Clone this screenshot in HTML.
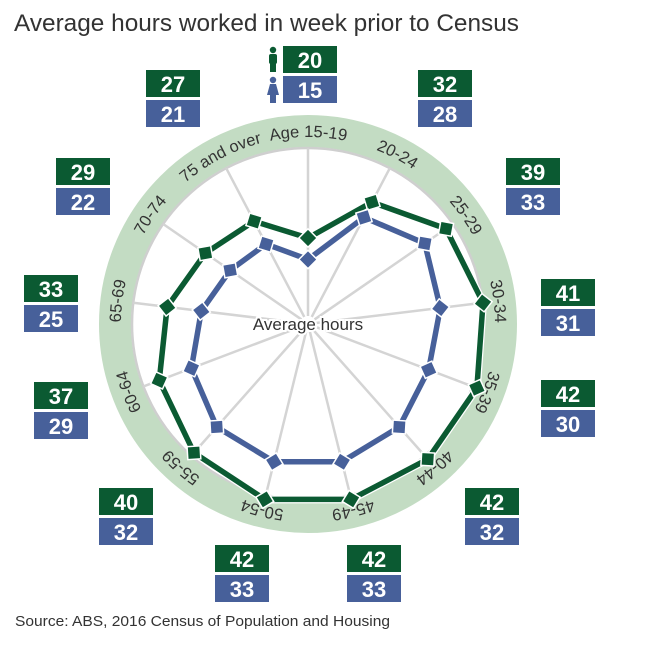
<!DOCTYPE html>
<html><head><meta charset="utf-8">
<style>
body{margin:0;background:#fff;width:646px;height:656px;overflow:hidden;font-family:"Liberation Sans",sans-serif}
</style></head>
<body>
<svg id="s" width="646" height="656" xmlns="http://www.w3.org/2000/svg" font-family="Liberation Sans, sans-serif">
<text x="14" y="31" font-size="24" fill="#333" textLength="505" lengthAdjust="spacingAndGlyphs">Average hours worked in week prior to Census</text>
<text x="15" y="626" font-size="15" fill="#333" textLength="375" lengthAdjust="spacingAndGlyphs">Source: ABS, 2016 Census of Population and Housing</text>
<circle cx="308" cy="324" r="193" fill="none" stroke="#c3dcc3" stroke-width="32"/>
<circle cx="308" cy="324" r="176" fill="none" stroke="#cfcfcf" stroke-width="2.5"/>
<g id="g"></g>
</svg>
<script>
const cx=308,cy=324,k=4.3,NS="http://www.w3.org/2000/svg";
const s=document.getElementById('s'),g=document.getElementById('g');
const M=[20,32,39,41,42,42,42,42,40,37,33,29,27],F=[15,28,33,31,30,32,33,33,32,29,25,22,21];
const L=["Age 15-19","20-24","25-29","30-34","35-39","40-44","45-49","50-54","55-59","60-64","65-69","70-74","75 and over"];
const B=[[283,46],[418,70],[506,158],[541,279],[541,380],[465,488],[347,545],[215,545],[99,488],[34,382],[24,275],[56,158],[146,70]];
function el(t,a,p){const e=document.createElementNS(NS,t);for(const x in a)e.setAttribute(x,a[x]);(p||g).appendChild(e);return e}
function pt(i,r){const a=i*2*Math.PI/13;return [cx+r*Math.sin(a),cy-r*Math.cos(a)]}
for(let i=0;i<13;i++){const p=pt(i,176),q=pt(i,8);el('line',{x1:q[0],y1:q[1],x2:p[0],y2:p[1],stroke:'#d4d4d4','stroke-width':2.5})}
function series(d,c){const ps=d.map((v,i)=>pt(i,v*k));
el('polygon',{points:ps.map(p=>p.join(',')).join(' '),fill:'none',stroke:'#fff','stroke-width':8,'stroke-linejoin':'round'});
el('polygon',{points:ps.map(p=>p.join(',')).join(' '),fill:'none',stroke:c,'stroke-width':5.5,'stroke-linejoin':'round'});
ps.forEach((p,i)=>{el('rect',{x:p[0]-6.5,y:p[1]-6.5,width:13,height:13,fill:c,stroke:'#fff','stroke-width':1.5,transform:`rotate(${45+i*360/13} ${p[0]} ${p[1]})`})})}
series(M,'#0b5a32');series(F,'#47609a');
el('text',{x:cx,y:cy+6,'font-size':17,'text-anchor':'middle',fill:'#fff',stroke:'#fff','stroke-width':4}).textContent="Average hours";
el('text',{x:cx,y:cy+6,'font-size':17,'text-anchor':'middle',fill:'#333'}).textContent="Average hours";
const r=187;
el('path',{id:'rp',d:`M ${cx} ${cy+r} A ${r} ${r} 0 1 1 ${cx} ${cy-r} A ${r} ${r} 0 1 1 ${cx} ${cy+r}`,fill:'none'});
const C=2*Math.PI*r;
L.forEach((t,i)=>{const deg=(i*360/13+180)%360;const tx=el('text',{'font-size':16.5,fill:'#333','text-anchor':'middle'});
const tp=el('textPath',{href:'#rp',startOffset:(deg/360*C).toFixed(1)},tx);tp.textContent=t;});
B.forEach((b,i)=>{const[x,y]=b;
el('rect',{x:x,y:y,width:54,height:27,fill:'#0b5a32'});
el('rect',{x:x,y:y+30,width:54,height:27,fill:'#47609a'});
el('text',{x:x+27,y:y+22,'font-size':22,'font-weight':'bold',fill:'#fff','text-anchor':'middle'}).textContent=M[i];
el('text',{x:x+27,y:y+52,'font-size':22,'font-weight':'bold',fill:'#fff','text-anchor':'middle'}).textContent=F[i];});
el('circle',{cx:273,cy:50,r:3.2,fill:'#0b5a32'});
el('rect',{x:269,y:54,width:8,height:10,rx:2,fill:'#0b5a32'});
el('rect',{x:270,y:62,width:6,height:10,fill:'#0b5a32'});
el('circle',{cx:273,cy:80,r:3.2,fill:'#47609a'});
el('polygon',{points:'270,84 276,84 279,95 267,95',fill:'#47609a'});
el('rect',{x:270,y:94,width:6,height:9,fill:'#47609a'});
</script>
</body></html>
